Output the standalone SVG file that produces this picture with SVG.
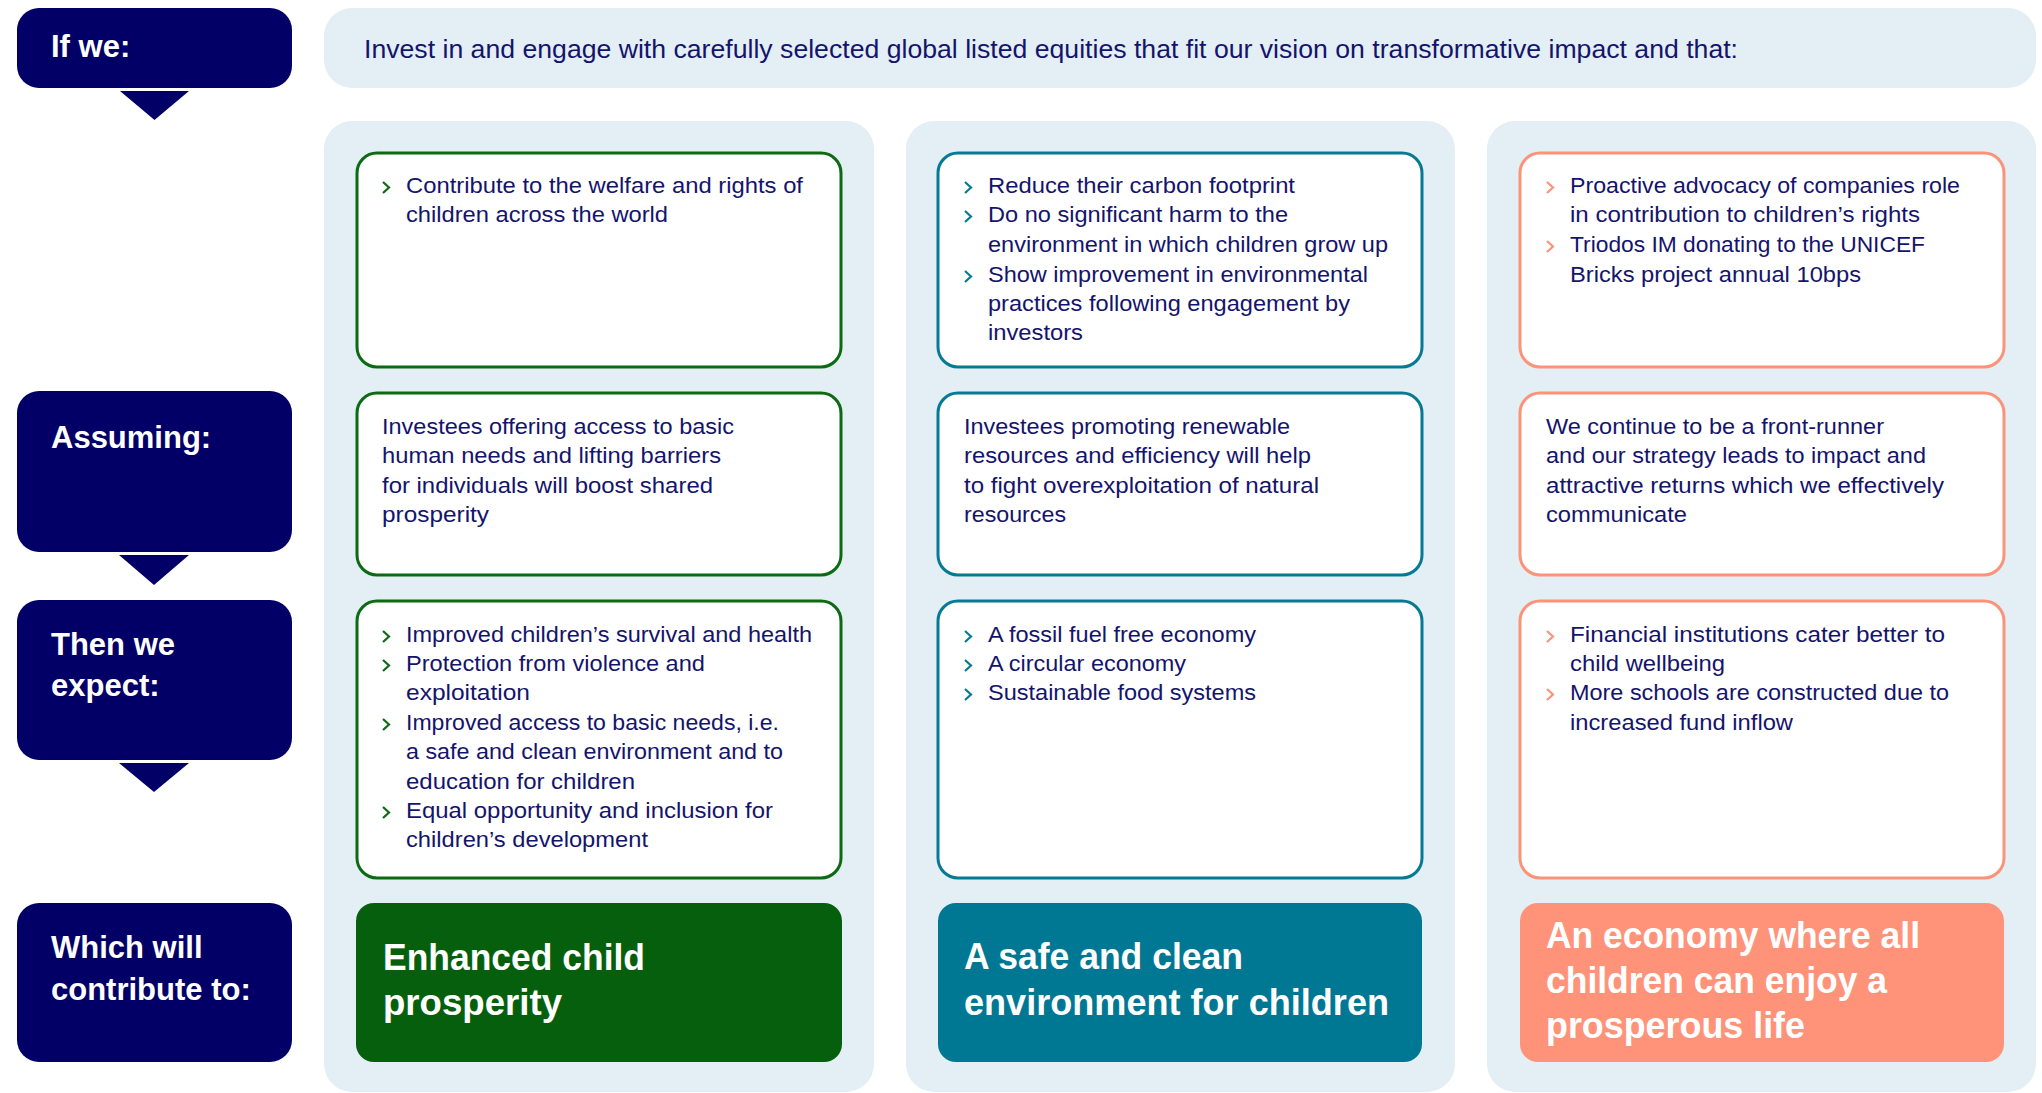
<svg xmlns="http://www.w3.org/2000/svg" width="2042" height="1093" viewBox="0 0 2042 1093">
<defs>
<style>
.lbl{fill:#020066}
.lbltxt{font-family:"Liberation Sans",Arial,sans-serif;font-weight:bold;font-size:31px;fill:#ffffff}
.panel{fill:#e3eff4}
.body{font-family:"Liberation Sans",Arial,sans-serif;font-size:22px;fill:#14146c}
.head{font-family:"Liberation Sans",Arial,sans-serif;font-size:26px;fill:#14146c}
.title{font-family:"Liberation Sans",Arial,sans-serif;font-weight:bold;font-size:36px;fill:#ffffff}
.cg{fill:#ffffff;stroke:#0b6a12;stroke-width:3}
.ct{fill:#ffffff;stroke:#077a93;stroke-width:3}
.cs{fill:#ffffff;stroke:#fa937a;stroke-width:3}
.fg{fill:#055f0c}
.ft{fill:#007894}
.fs{fill:#fe937a}
.bg{fill:none;stroke:#0b6a12;stroke-width:2.2}
.bt{fill:none;stroke:#077a93;stroke-width:2.2}
.bs{fill:none;stroke:#fa937a;stroke-width:2.2}
.tri{fill:#020066}
</style>
</defs>
<rect width="2042" height="1093" fill="#ffffff"/>

<g id="label-if-we">
<rect class="lbl" x="17" y="8" width="275" height="80" rx="22"/>
<text class="lbltxt" x="51" y="57">If we:</text>
</g>
<g id="label-assuming">
<rect class="lbl" x="17" y="391" width="275" height="161" rx="22"/>
<text class="lbltxt" x="51" y="448">Assuming:</text>
</g>
<g id="label-then">
<rect class="lbl" x="17" y="600" width="275" height="160" rx="22"/>
<text class="lbltxt" x="51" y="655">Then we</text>
<text class="lbltxt" x="51" y="696">expect:</text>
</g>
<g id="label-which">
<rect class="lbl" x="17" y="903" width="275" height="159" rx="22"/>
<text class="lbltxt" x="51" y="958">Which will</text>
<text class="lbltxt" x="51" y="1000">contribute to:</text>
</g>

<g id="connectors">
<polygon class="tri" points="120,91 189,91 154.5,120"/>
<polygon class="tri" points="119,555 189,555 154,585"/>
<polygon class="tri" points="119,763 189,763 154,792"/>
</g>

<g id="banner">
<rect class="panel" x="324" y="8" width="1712" height="80" rx="28"/>
<text class="head" x="364" y="58" textLength="1374" lengthAdjust="spacingAndGlyphs">Invest in and engage with carefully selected global listed equities that fit our vision on transformative impact and that:</text>
</g>

<g id="panels">
<rect class="panel" x="324" y="121" width="550" height="971" rx="28"/>
<rect class="panel" x="906" y="121" width="549" height="971" rx="28"/>
<rect class="panel" x="1487" y="121" width="549" height="971" rx="28"/>
</g>

<!-- Column 1 -->
<g id="c1-if">
<rect class="cg" x="357" y="153" width="484" height="214" rx="20"/>
<path class="bg" d="M383,182 L389,187.5 L383,193"/>
<text class="body" x="406" y="193" textLength="397" lengthAdjust="spacingAndGlyphs">Contribute to the welfare and rights of</text>
<text class="body" x="406" y="222" textLength="262" lengthAdjust="spacingAndGlyphs">children across the world</text>
</g>
<g id="c1-assume">
<rect class="cg" x="357" y="393" width="484" height="182" rx="20"/>
<text class="body" x="382" y="434" textLength="352" lengthAdjust="spacingAndGlyphs">Investees offering access to basic</text>
<text class="body" x="382" y="463" textLength="339" lengthAdjust="spacingAndGlyphs">human needs and lifting barriers</text>
<text class="body" x="382" y="493" textLength="331" lengthAdjust="spacingAndGlyphs">for individuals will boost shared</text>
<text class="body" x="382" y="522" textLength="107" lengthAdjust="spacingAndGlyphs">prosperity</text>
</g>
<g id="c1-expect">
<rect class="cg" x="357" y="601" width="484" height="277" rx="20"/>
<path class="bg" d="M383,631 L389,636.5 L383,642"/>
<path class="bg" d="M383,660 L389,665.5 L383,671"/>
<path class="bg" d="M383,719 L389,724.5 L383,730"/>
<path class="bg" d="M383,807 L389,812.5 L383,818"/>
<text class="body" x="406" y="642" textLength="406" lengthAdjust="spacingAndGlyphs">Improved children’s survival and health</text>
<text class="body" x="406" y="671" textLength="299" lengthAdjust="spacingAndGlyphs">Protection from violence and</text>
<text class="body" x="406" y="700" textLength="124" lengthAdjust="spacingAndGlyphs">exploitation</text>
<text class="body" x="406" y="730" textLength="373" lengthAdjust="spacingAndGlyphs">Improved access to basic needs, i.e.</text>
<text class="body" x="406" y="759" textLength="377" lengthAdjust="spacingAndGlyphs">a safe and clean environment and to</text>
<text class="body" x="406" y="789" textLength="229" lengthAdjust="spacingAndGlyphs">education for children</text>
<text class="body" x="406" y="818" textLength="367" lengthAdjust="spacingAndGlyphs">Equal opportunity and inclusion for</text>
<text class="body" x="406" y="847" textLength="242" lengthAdjust="spacingAndGlyphs">children’s development</text>
</g>
<g id="c1-outcome">
<rect class="fg" x="356" y="903" width="486" height="159" rx="18"/>
<text class="title" x="383" y="970" textLength="262" lengthAdjust="spacingAndGlyphs">Enhanced child</text>
<text class="title" x="383" y="1015" textLength="179" lengthAdjust="spacingAndGlyphs">prosperity</text>
</g>

<!-- Column 2 -->
<g id="c2-if">
<rect class="ct" x="938" y="153" width="484" height="214" rx="20"/>
<path class="bt" d="M965,182 L971,187.5 L965,193"/>
<path class="bt" d="M965,211 L971,216.5 L965,222"/>
<path class="bt" d="M965,271 L971,276.5 L965,282"/>
<text class="body" x="988" y="193" textLength="307" lengthAdjust="spacingAndGlyphs">Reduce their carbon footprint</text>
<text class="body" x="988" y="222" textLength="300" lengthAdjust="spacingAndGlyphs">Do no significant harm to the</text>
<text class="body" x="988" y="252" textLength="400" lengthAdjust="spacingAndGlyphs">environment in which children grow up</text>
<text class="body" x="988" y="282" textLength="380" lengthAdjust="spacingAndGlyphs">Show improvement in environmental</text>
<text class="body" x="988" y="311" textLength="362" lengthAdjust="spacingAndGlyphs">practices following engagement by</text>
<text class="body" x="988" y="340" textLength="95" lengthAdjust="spacingAndGlyphs">investors</text>
</g>
<g id="c2-assume">
<rect class="ct" x="938" y="393" width="484" height="182" rx="20"/>
<text class="body" x="964" y="434" textLength="326" lengthAdjust="spacingAndGlyphs">Investees promoting renewable</text>
<text class="body" x="964" y="463" textLength="347" lengthAdjust="spacingAndGlyphs">resources and efficiency will help</text>
<text class="body" x="964" y="493" textLength="355" lengthAdjust="spacingAndGlyphs">to fight overexploitation of natural</text>
<text class="body" x="964" y="522" textLength="102" lengthAdjust="spacingAndGlyphs">resources</text>
</g>
<g id="c2-expect">
<rect class="ct" x="938" y="601" width="484" height="277" rx="20"/>
<path class="bt" d="M965,631 L971,636.5 L965,642"/>
<path class="bt" d="M965,660 L971,665.5 L965,671"/>
<path class="bt" d="M965,689 L971,694.5 L965,700"/>
<text class="body" x="988" y="642" textLength="268" lengthAdjust="spacingAndGlyphs">A fossil fuel free economy</text>
<text class="body" x="988" y="671" textLength="198" lengthAdjust="spacingAndGlyphs">A circular economy</text>
<text class="body" x="988" y="700" textLength="268" lengthAdjust="spacingAndGlyphs">Sustainable food systems</text>
</g>
<g id="c2-outcome">
<rect class="ft" x="938" y="903" width="484" height="159" rx="18"/>
<text class="title" x="964" y="969" textLength="279" lengthAdjust="spacingAndGlyphs">A safe and clean</text>
<text class="title" x="964" y="1015" textLength="425" lengthAdjust="spacingAndGlyphs">environment for children</text>
</g>

<!-- Column 3 -->
<g id="c3-if">
<rect class="cs" x="1520" y="153" width="484" height="214" rx="20"/>
<path class="bs" d="M1547,182 L1553,187.5 L1547,193"/>
<path class="bs" d="M1547,241 L1553,246.5 L1547,252"/>
<text class="body" x="1570" y="193" textLength="390" lengthAdjust="spacingAndGlyphs">Proactive advocacy of companies role</text>
<text class="body" x="1570" y="222" textLength="350" lengthAdjust="spacingAndGlyphs">in contribution to children’s rights</text>
<text class="body" x="1570" y="252" textLength="355" lengthAdjust="spacingAndGlyphs">Triodos IM donating to the UNICEF</text>
<text class="body" x="1570" y="282" textLength="291" lengthAdjust="spacingAndGlyphs">Bricks project annual 10bps</text>
</g>
<g id="c3-assume">
<rect class="cs" x="1520" y="393" width="484" height="182" rx="20"/>
<text class="body" x="1546" y="434" textLength="338" lengthAdjust="spacingAndGlyphs">We continue to be a front-runner</text>
<text class="body" x="1546" y="463" textLength="380" lengthAdjust="spacingAndGlyphs">and our strategy leads to impact and</text>
<text class="body" x="1546" y="493" textLength="398" lengthAdjust="spacingAndGlyphs">attractive returns which we effectively</text>
<text class="body" x="1546" y="522" textLength="141" lengthAdjust="spacingAndGlyphs">communicate</text>
</g>
<g id="c3-expect">
<rect class="cs" x="1520" y="601" width="484" height="277" rx="20"/>
<path class="bs" d="M1547,631 L1553,636.5 L1547,642"/>
<path class="bs" d="M1547,689 L1553,694.5 L1547,700"/>
<text class="body" x="1570" y="642" textLength="375" lengthAdjust="spacingAndGlyphs">Financial institutions cater better to</text>
<text class="body" x="1570" y="671" textLength="155" lengthAdjust="spacingAndGlyphs">child wellbeing</text>
<text class="body" x="1570" y="700" textLength="379" lengthAdjust="spacingAndGlyphs">More schools are constructed due to</text>
<text class="body" x="1570" y="730" textLength="223" lengthAdjust="spacingAndGlyphs">increased fund inflow</text>
</g>
<g id="c3-outcome">
<rect class="fs" x="1520" y="903" width="484" height="159" rx="18"/>
<text class="title" x="1546" y="948" textLength="374" lengthAdjust="spacingAndGlyphs">An economy where all</text>
<text class="title" x="1546" y="993" textLength="341" lengthAdjust="spacingAndGlyphs">children can enjoy a</text>
<text class="title" x="1546" y="1038" textLength="259" lengthAdjust="spacingAndGlyphs">prosperous life</text>
</g>
</svg>
